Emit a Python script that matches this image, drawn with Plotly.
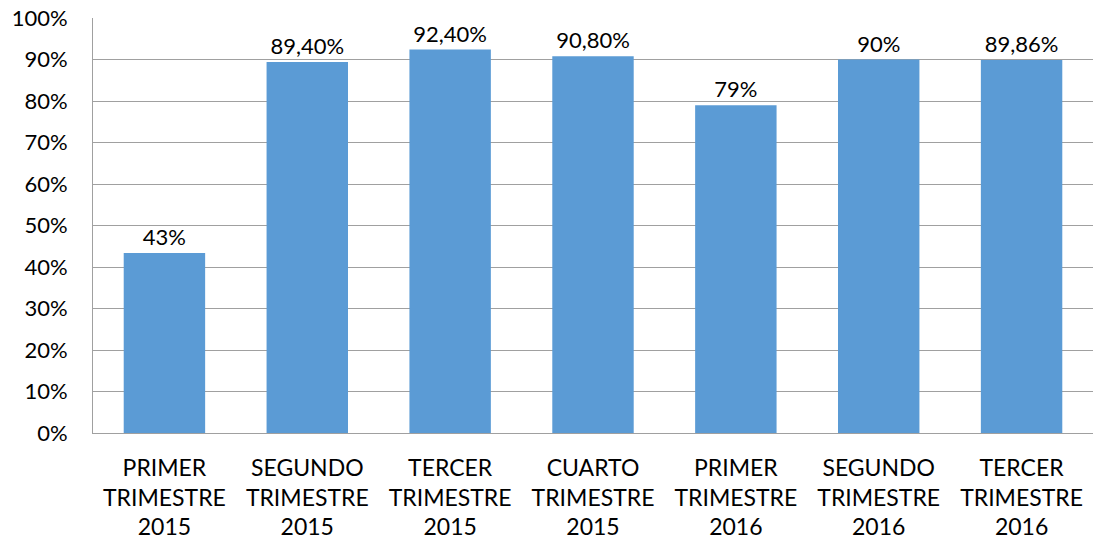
import plotly.graph_objects as go

categories = ["PRIMER<br>TRIMESTRE<br>2015", "SEGUNDO<br>TRIMESTRE<br>2015", "TERCER<br>TRIMESTRE<br>2015",
              "CUARTO<br>TRIMESTRE<br>2015", "PRIMER<br>TRIMESTRE<br>2016", "SEGUNDO<br>TRIMESTRE<br>2016",
              "TERCER<br>TRIMESTRE<br>2016"]
values = [43.4, 89.4, 92.4, 90.8, 79.0, 90.0, 89.86]
labels = ["43%", "89,40%", "92,40%", "90,80%", "79%", "90%", "89,86%"]
y_ticks = [0, 10, 20, 30, 40, 50, 60, 70, 80, 90, 100]
y_tick_text = [f"{v}%" for v in y_ticks]

FONT = "Lato, Carlito, Calibri, sans-serif"

fig = go.Figure(go.Bar(
    x=categories, y=values, text=labels, textposition="outside",
    textfont=dict(family=FONT, size=22, color="#000000"),
    marker=dict(color="#5B9BD5", line=dict(width=0)),
    cliponaxis=False,
))

fig.update_layout(
    width=1093, height=543,
    margin=dict(l=93, r=0, t=18, b=110),
    paper_bgcolor="white", plot_bgcolor="white",
    bargap=0.43,
    showlegend=False,
    font=dict(family=FONT, size=22, color="#000000"),
)
fig.update_yaxes(
    range=[0, 100], tickvals=y_ticks, ticktext=y_tick_text,
    showgrid=True, gridcolor="#A0A0A0", gridwidth=1,
    showline=True, linecolor="#A0A0A0", linewidth=1,
    zeroline=False, ticks="outside", ticklen=0, ticklabelstandoff=20,
    ticklabeloverflow="allow", automargin=False,
    tickfont=dict(family=FONT, size=22, color="#000000"),
)
fig.update_xaxes(
    showgrid=False, showline=True, linecolor="#A0A0A0", linewidth=1,
    ticks="outside", ticklen=0, ticklabelstandoff=14, automargin=False,
    tickfont=dict(family=FONT, size=23, color="#000000"),
    tickangle=0,
)

fig.write_html(
    "out.html",
    config={"displayModeBar": False},
    post_script="document.body.style.margin='0';document.body.style.overflow='hidden';",
)
